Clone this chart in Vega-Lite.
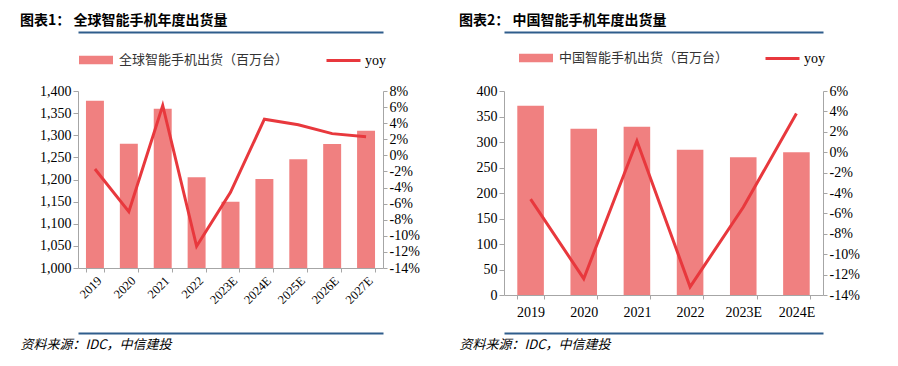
{
  "$schema": "https://vega.github.io/schema/vega-lite/v6.json",
  "background": "white",
  "padding": {"left": 20, "top": 14, "right": 5, "bottom": 5},
  "spacing": 39,
  "resolve": {"scale": {"color": "independent", "stroke": "independent"}, "legend": {"color": "independent", "stroke": "independent"}},
  "config": {
    "view": {"stroke": null},
    "axis": {"domainColor": "#A6A6A6", "tickColor": "#A6A6A6", "grid": false, "labelFont": "Liberation Serif", "labelColor": "#000", "labelFontSize": 13}
  },
  "hconcat": [
    {
      "width": 305,
      "height": 177,
      "title": {"text": "图表1： 全球智能手机年度出货量", "anchor": "start", "frame": "group", "dx": -58, "font": "Noto Sans CJK SC", "fontSize": 14, "fontWeight": "bold", "color": "#000", "offset": 4},
      "data": {"values": [
        {"year": "2019", "ship": 1378, "yoy": -1.7},
        {"year": "2020", "ship": 1281, "yoy": -7.0},
        {"year": "2021", "ship": 1360, "yoy": 6.2},
        {"year": "2022", "ship": 1205, "yoy": -11.3},
        {"year": "2023E", "ship": 1150, "yoy": -4.6},
        {"year": "2024E", "ship": 1201, "yoy": 4.5},
        {"year": "2025E", "ship": 1246, "yoy": 3.8},
        {"year": "2026E", "ship": 1280, "yoy": 2.7},
        {"year": "2027E", "ship": 1310, "yoy": 2.3}
      ]},
      "layer": [
        {
          "mark": {"type": "bar"},
          "encoding": {
            "x": {"field": "year", "type": "nominal", "sort": null, "scale": {"paddingInner": 0.47, "paddingOuter": 0.235}, "axis": {"title": null, "labelAngle": -45, "tickBand": "extent", "tickSize": 4, "labelPadding": 2, "labelFontSize": 12.5}},
            "y": {"field": "ship", "type": "quantitative", "scale": {"domain": [1000, 1400], "zero": false}, "axis": {"title": null, "values": [1000, 1050, 1100, 1150, 1200, 1250, 1300, 1350, 1400], "format": ",.0f", "tickSize": 5, "labelFontSize": 14}},
            "y2": {"datum": 1000},
            "color": {"datum": "全球智能手机出货（百万台）", "scale": {"range": ["#F08080"]}, "legend": {"orient": "none", "legendX": 0, "legendY": -49, "direction": "horizontal", "title": null, "padding": 0, "labelLimit": 0, "symbolType": "M-1,-0.25H1V0.25H-1Z", "symbolSize": 1156, "symbolOpacity": 1, "labelFont": "Noto Sans CJK SC", "labelFontSize": 13, "labelColor": "#333", "labelOffset": 5}}
          }
        },
        {
          "mark": {"type": "line", "strokeWidth": 3},
          "encoding": {
            "x": {"field": "year", "type": "nominal", "sort": null, "axis": {"orient": "top", "offset": 59, "labels": false, "ticks": false, "title": null, "domainColor": "#2F5D8C", "domainWidth": 2}},
            "y": {"field": "yoy", "type": "quantitative", "scale": {"domain": [-14, 8]}, "axis": {"orient": "right", "title": null, "values": [-14, -12, -10, -8, -6, -4, -2, 0, 2, 4, 6, 8], "labelExpr": "datum.value + '%'", "tickSize": 4, "labelFontSize": 14}},
            "stroke": {"datum": "yoy", "scale": {"range": ["#E8383D"]}, "legend": {"orient": "none", "legendX": 247, "legendY": -49, "direction": "horizontal", "title": null, "padding": 0, "labelLimit": 0, "symbolType": "stroke", "symbolSize": 1156, "symbolStrokeWidth": 3, "labelFont": "Liberation Serif", "labelFontSize": 14, "labelColor": "#000", "labelOffset": 3}}
          }
        },
        {
          "mark": {"type": "rule", "opacity": 0},
          "encoding": {
            "x": {"field": "year", "type": "nominal", "sort": null, "axis": {"orient": "bottom", "offset": 65, "labels": false, "ticks": false, "domainColor": "#2F5D8C", "domainWidth": 2, "title": "资料来源：IDC，中信建投", "titleFont": "Noto Sans CJK SC", "titleFontStyle": "italic", "titleFontWeight": "normal", "titleFontSize": 13, "titleColor": "#000", "titleX": -58, "titleAlign": "left", "titlePadding": 5}}
          }
        }
      ],
      "resolve": {"scale": {"y": "independent"}, "axis": {"x": "independent"}}
    },
    {
      "width": 319,
      "height": 204,
      "title": {"text": "图表2： 中国智能手机年度出货量", "anchor": "start", "frame": "group", "dx": -45, "font": "Noto Sans CJK SC", "fontSize": 14, "fontWeight": "bold", "color": "#000", "offset": 4},
      "data": {"values": [
        {"year": "2019", "ship": 371, "yoy": -4.6},
        {"year": "2020", "ship": 326, "yoy": -12.4},
        {"year": "2021", "ship": 330, "yoy": 1.1},
        {"year": "2022", "ship": 285, "yoy": -13.2},
        {"year": "2023E", "ship": 270, "yoy": -5.4},
        {"year": "2024E", "ship": 280, "yoy": 3.8}
      ]},
      "layer": [
        {
          "mark": {"type": "bar"},
          "encoding": {
            "x": {"field": "year", "type": "nominal", "sort": null, "scale": {"paddingInner": 0.5, "paddingOuter": 0.25}, "axis": {"title": null, "labelAngle": 0, "tickBand": "extent", "tickSize": 4, "labelPadding": 6, "labelFontSize": 14}},
            "y": {"field": "ship", "type": "quantitative", "scale": {"domain": [0, 400]}, "axis": {"title": null, "values": [0, 50, 100, 150, 200, 250, 300, 350, 400], "tickSize": 5, "labelFontSize": 14}},
            "color": {"datum": "中国智能手机出货（百万台）", "scale": {"range": ["#F08080"]}, "legend": {"orient": "none", "legendX": 14, "legendY": -51, "direction": "horizontal", "title": null, "padding": 0, "labelLimit": 0, "symbolType": "M-1,-0.25H1V0.25H-1Z", "symbolSize": 1156, "symbolOpacity": 1, "labelFont": "Noto Sans CJK SC", "labelFontSize": 13, "labelColor": "#333", "labelOffset": 5}}
          }
        },
        {
          "mark": {"type": "line", "strokeWidth": 3},
          "encoding": {
            "x": {"field": "year", "type": "nominal", "sort": null, "axis": {"orient": "top", "offset": 59, "labels": false, "ticks": false, "title": null, "domainColor": "#2F5D8C", "domainWidth": 2}},
            "y": {"field": "yoy", "type": "quantitative", "scale": {"domain": [-14, 6]}, "axis": {"orient": "right", "title": null, "values": [-14, -12, -10, -8, -6, -4, -2, 0, 2, 4, 6], "labelExpr": "datum.value + '%'", "tickSize": 4, "labelFontSize": 14}},
            "stroke": {"datum": "yoy", "scale": {"range": ["#E8383D"]}, "legend": {"orient": "none", "legendX": 260, "legendY": -51, "direction": "horizontal", "title": null, "padding": 0, "labelLimit": 0, "symbolType": "stroke", "symbolSize": 1156, "symbolStrokeWidth": 3, "labelFont": "Liberation Serif", "labelFontSize": 14, "labelColor": "#000", "labelOffset": 3}}
          }
        },
        {
          "mark": {"type": "rule", "opacity": 0},
          "encoding": {
            "x": {"field": "year", "type": "nominal", "sort": null, "axis": {"orient": "bottom", "offset": 38, "labels": false, "ticks": false, "domainColor": "#2F5D8C", "domainWidth": 2, "title": "资料来源：IDC，中信建投", "titleFont": "Noto Sans CJK SC", "titleFontStyle": "italic", "titleFontWeight": "normal", "titleFontSize": 13, "titleColor": "#000", "titleX": -45, "titleAlign": "left", "titlePadding": 5}}
          }
        }
      ],
      "resolve": {"scale": {"y": "independent"}, "axis": {"x": "independent"}}
    }
  ]
}
